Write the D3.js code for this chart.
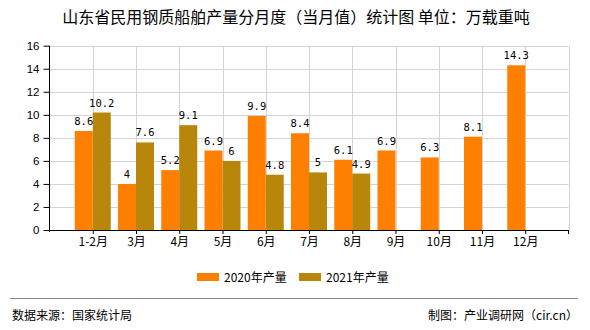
<!DOCTYPE html>
<html><head><meta charset="utf-8">
<script src="https://cdn.jsdelivr.net/npm/d3@7/dist/d3.min.js"></script>
<style>body{margin:0;background:#fff}svg{display:block}</style>
</head><body>
<svg id="c" width="590" height="330"></svg>
<script>
const categories = ["1-2月","3月","4月","5月","6月","7月","8月","9月","10月","11月","12月"];
const values2020 = [8.6,4,5.2,6.9,9.9,8.4,6.1,6.9,6.3,8.1,14.3];
const values2021 = [10.2,7.6,9.1,6,4.8,5,4.9,null,null,null,null];
const seriesNames = ["2020年产量","2021年产量"];
const yTicks = [0,2,4,6,8,10,12,14,16];
const colors = ["#ff8000","#b8860b"];

const svg = d3.select("#c");
const L=49.5, R=568.5, T=45.7, B=230;
const x = d3.scalePoint().domain(categories).range([L,R]).padding(1);
const y = d3.scaleLinear().domain([0,16]).range([B,T]);
const bw = 18;
const cjk = "'Noto Sans CJK SC','Noto Sans',sans-serif";

svg.append("text").attr("x",296).attr("y",23).attr("text-anchor","middle")
  .style("font-family",cjk).style("font-size","16px").attr("fill","#000")
  .text("山东省民用钢质船舶产量分月度（当月值）统计图 单位：万载重吨");

// grid
const g = svg.append("g");
g.selectAll("line.h").data(yTicks.filter(d=>d>0)).join("line")
  .attr("x1",L).attr("x2",R).attr("y1",d=>Math.round(y(d))+0.5).attr("y2",d=>Math.round(y(d))+0.5)
  .attr("stroke","#d4d4d4");
const vx = categories.map(c=>x(c)).concat([R]);
g.selectAll("line.v").data(vx).join("line")
  .attr("x1",d=>Math.round(d)+0.5).attr("x2",d=>Math.round(d)+0.5).attr("y1",Math.round(T)).attr("y2",B)
  .attr("stroke","#d4d4d4");

// bars
const bars = svg.append("g");
bars.selectAll("rect.a").data(values2020.map((v,i)=>({v,c:categories[i]}))).join("rect")
  .attr("x",d=>x(d.c)-bw).attr("width",bw).attr("y",d=>y(d.v)).attr("height",d=>B-y(d.v)).attr("fill",colors[0]);
bars.selectAll("rect.b").data(values2021.map((v,i)=>({v,c:categories[i]})).filter(d=>d.v!=null)).join("rect")
  .attr("x",d=>x(d.c)).attr("width",bw).attr("y",d=>y(d.v)).attr("height",d=>B-y(d.v)).attr("fill",colors[1]);

// labels
const lab = svg.append("g").style("font-family","'DejaVu Sans Mono','Liberation Mono',monospace").style("font-size","10.5px").attr("fill","#000").attr("text-anchor","middle");
lab.selectAll("text.a").data(values2020.map((v,i)=>({v,c:categories[i]}))).join("text")
  .attr("x",d=>x(d.c)-bw/2).attr("y",d=>y(d.v)-6).text(d=>d.v);
lab.selectAll("text.b").data(values2021.map((v,i)=>({v,c:categories[i]})).filter(d=>d.v!=null)).join("text")
  .attr("x",d=>x(d.c)+bw/2).attr("y",d=>y(d.v)-6).text(d=>d.v);

// axes
const yAxis = svg.append("g").attr("transform",`translate(${L},0)`)
  .call(d3.axisLeft(y).tickValues(yTicks).tickSize(6).tickPadding(4).tickFormat(d3.format("d")));
yAxis.select(".domain").attr("d",`M0,${T}V${B+2}`).attr("stroke","#000");
yAxis.selectAll("text").style("font-family","'Liberation Sans',Arial,sans-serif").style("font-size","11.5px").attr("fill","#000");
const xAxis = svg.append("g").attr("transform",`translate(0,${B})`)
  .call(d3.axisBottom(x).tickSize(4).tickPadding(3));
xAxis.select(".domain").attr("d",`M${L},0.5H${R}`).attr("stroke","#000");
xAxis.selectAll("text").style("font-family",cjk).style("font-size","12px").attr("fill","#000");
xAxis.append("line").attr("x1",R).attr("x2",R).attr("y1",0).attr("y2",4).attr("stroke","#000");

// legend
const lg = svg.append("g");
seriesNames.forEach((n,i)=>{
  const lx = 197 + i*102;
  lg.append("rect").attr("x",lx).attr("y",273).attr("width",22).attr("height",8).attr("fill",colors[i]);
  lg.append("text").attr("x",lx+27).attr("y",281.5).style("font-family",cjk).style("font-size","12px").attr("fill","#000").text(n);
});

// footer
svg.append("line").attr("x1",10).attr("x2",578).attr("y1",298.5).attr("y2",298.5).attr("stroke","#888");
svg.append("text").attr("x",12).attr("y",320).style("font-family",cjk).style("font-size","12px").attr("fill","#000").text("数据来源：国家统计局");
svg.append("text").attr("x",578).attr("y",320).attr("text-anchor","end").style("font-family",cjk).style("font-size","12px").attr("fill","#000").text("制图：产业调研网（cir.cn）");
</script>
</body></html>
